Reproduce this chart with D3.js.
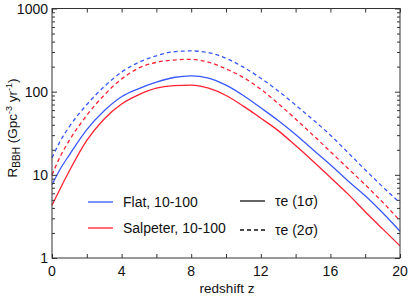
<!DOCTYPE html>
<html lang="en">
<head>
<meta charset="utf-8">
<style>
    body { margin: 0; background: #fff; }
    text { font-family: "Liberation Sans", Arial, sans-serif; fill: #111; }
</style>
</head>
<body>
<svg width="409" height="301"></svg>
<script src="https://d3js.org/d3.v7.min.js"></script>
<script>
    // redshift grid
    var redshift = [0, 0.5, 1, 2, 3, 4, 5, 6, 7, 8, 9, 10, 11, 12, 13, 14, 15, 16, 17, 18, 19, 20];

    // R_BBH (Gpc^-3 yr^-1)
    var flat1 = [7.6, 12, 17.4, 35, 59, 87, 109, 130, 148, 155, 145, 120, 90, 64, 45, 30.5, 20, 13.2, 8.5, 5.6, 3.5, 2.1];
    var flat2 = [16, 26, 38, 70, 115, 172, 226, 270, 302, 309, 295, 252, 197, 145, 102, 69, 46, 30, 18.6, 11.5, 7.2, 4.6];
    var salp1 = [4.3, 7, 11.2, 26, 47, 71, 92, 110, 118, 120, 110, 90, 67, 48, 34, 22.5, 14.6, 9.3, 5.9, 3.6, 2.24, 1.4];
    var salp2 = [10, 17, 26, 52, 91, 142, 193, 225, 240, 245, 226, 188, 148, 107, 72, 47, 30, 19, 12, 7.6, 4.7, 2.8];

    var xTicks = [0, 4, 8, 12, 16, 20];
    var yTicks = [1, 10, 100, 1000];

    var blue = "#3a58ff", red = "#ff2233";

    var series = [
        { values: flat1, color: blue, dash: null },
        { values: salp1, color: red, dash: null },
        { values: flat2, color: blue, dash: "4,3" },
        { values: salp2, color: red, dash: "4,3" }
    ];

    var svg = d3.select("svg");
    var plotL = 52, plotR = 400, plotT = 8.5, plotB = 258;

    var x = d3.scaleLinear().domain([0, 20]).range([plotL, plotR]);
    var y = d3.scaleLog().domain([1, 1000]).range([plotB, plotT]);

    var line = d3.line()
        .x(function (d) { return x(d[0]); })
        .y(function (d) { return y(d[1]); })
        .curve(d3.curveMonotoneX);

    // curves
    series.forEach(function (s) {
        svg.append("path")
            .datum(redshift.map(function (z, i) { return [z, s.values[i]]; }))
            .attr("d", line)
            .attr("fill", "none")
            .attr("stroke", s.color)
            .attr("stroke-width", 1.3)
            .attr("stroke-dasharray", s.dash);
    });

    // frame with inward ticks
    var axisColor = "#333";
    var minorX = d3.range(0, 21, 2);
    var minorY = [];
    [1, 10, 100].forEach(function (dec) {
        for (var k = 2; k <= 9; k++) minorY.push(dec * k);
    });

    svg.append("g").call(d3.axisBottom(x).tickValues(minorX).tickSize(-4).tickFormat(""))
        .attr("transform", "translate(0," + plotB + ")");
    svg.append("g").call(d3.axisTop(x).tickValues(minorX).tickSize(-4).tickFormat(""))
        .attr("transform", "translate(0," + plotT + ")");
    svg.append("g").call(d3.axisLeft(y).tickValues(yTicks).tickSize(-5).tickFormat(""))
        .attr("transform", "translate(" + plotL + ",0)");
    svg.append("g").call(d3.axisLeft(y).tickValues(minorY).tickSize(-3).tickFormat(""))
        .attr("transform", "translate(" + plotL + ",0)");
    svg.append("g").call(d3.axisRight(y).tickValues(yTicks).tickSize(-5).tickFormat(""))
        .attr("transform", "translate(" + plotR + ",0)");
    svg.append("g").call(d3.axisRight(y).tickValues(minorY).tickSize(-3).tickFormat(""))
        .attr("transform", "translate(" + plotR + ",0)");
    svg.selectAll(".domain").remove();
    svg.selectAll(".tick line").attr("stroke", axisColor);

    svg.append("rect")
        .attr("x", plotL).attr("y", plotT)
        .attr("width", plotR - plotL).attr("height", plotB - plotT)
        .attr("fill", "none").attr("stroke", axisColor).attr("stroke-width", 1);

    // tick labels
    svg.selectAll(".xlab").data(xTicks).enter().append("text")
        .attr("x", function (d) { return x(d); })
        .attr("y", 276)
        .attr("text-anchor", "middle")
        .style("font-size", "14px")
        .text(function (d) { return d; });

    svg.selectAll(".ylab").data(yTicks).enter().append("text")
        .attr("x", 48)
        .attr("y", function (d) { return y(d) + 5; })
        .attr("text-anchor", "end")
        .style("font-size", "14px")
        .text(function (d) { return d; });

    // axis titles
    svg.append("text")
        .attr("x", 227).attr("y", 293)
        .attr("text-anchor", "middle")
        .style("font-size", "13.5px")
        .text("redshift z");

    var yt = svg.append("text")
        .attr("transform", "translate(17,128) rotate(-90)")
        .attr("text-anchor", "middle")
        .style("font-size", "13.5px");
    yt.append("tspan").text("R");
    yt.append("tspan").attr("dy", 3).style("font-size", "10px").text("BBH");
    yt.append("tspan").attr("dy", -3).text(" (Gpc");
    yt.append("tspan").attr("dy", -5).style("font-size", "9px").text("-3");
    yt.append("tspan").attr("dy", 5).text(" yr");
    yt.append("tspan").attr("dy", -5).style("font-size", "9px").text("-1");
    yt.append("tspan").attr("dy", 5).text(")");

    // legends
    var legA = [
        { label: "Flat, 10-100", color: blue, dash: null, y: 202 },
        { label: "Salpeter, 10-100", color: red, dash: null, y: 228 }
    ];
    var legB = [
        { label: "\u03c4e (1\u03c3)", color: "#111", dash: null, y: 201 },
        { label: "\u03c4e (2\u03c3)", color: "#111", dash: "4,3", y: 230 }
    ];

    function legend(items, x0, x1, tx) {
        items.forEach(function (d) {
            svg.append("line")
                .attr("x1", x0).attr("x2", x1)
                .attr("y1", d.y).attr("y2", d.y)
                .attr("stroke", d.color).attr("stroke-width", 1.3)
                .attr("stroke-dasharray", d.dash);
            svg.append("text")
                .attr("x", tx).attr("y", d.y + 5)
                .style("font-size", "14px")
                .text(d.label);
        });
    }
    legend(legA, 88, 113, 123);
    legend(legB, 240, 265, 275);
</script>
</body>
</html>
